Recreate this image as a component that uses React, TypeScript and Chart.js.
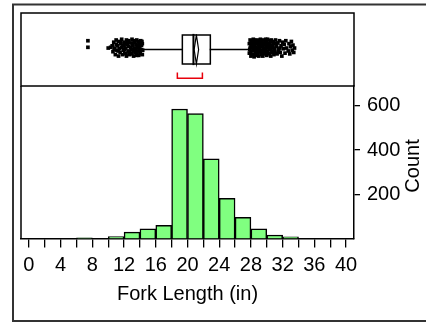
import { useEffect, useRef } from 'react';
import { Chart, registerables } from 'chart.js';

Chart.register(...registerables);

const FONT = '"Liberation Sans", Arial, sans-serif';

// Histogram of fork length: lower bin edges (in) and counts per bin
const binStarts = [6, 8, 10, 12, 14, 16, 18, 20, 22, 24, 26, 28, 30, 32];
const binWidth = 2;
const binCounts = [3, 0, 9, 29, 44, 60, 586, 565, 361, 182, 96, 44, 16, 8];

// Axis ticks
const lengthTicks = [0, 2, 4, 6, 8, 10, 12, 14, 16, 18, 20, 22, 24, 26, 28, 30, 32, 34, 36, 38, 40];
const lengthTickLabels = ['0', '4', '8', '12', '16', '20', '24', '28', '32', '36', '40'];
const countTicks = [200, 400, 600];

// Outlier box plot summary
const quartiles = [19.35, 20.75, 22.88]; // Q1, median, Q3
const whiskerEnds = [14.4, 27.78];
const meanDiamond = [20.84, 21.12, 21.4]; // lower CI, mean, upper CI
const shortestHalf = [18.72, 21.88];

// Outlying observations (in) with their vertical jitter
const lowOutliers = [
  7.44, 7.44, 10.0, 10.3, 10.5, 10.6, 10.7, 10.8, 10.9, 11.0, 11.0, 11.1, 11.2,
  11.3, 11.3, 11.4, 11.5, 11.6, 11.7, 11.7, 11.8, 11.9, 12.0, 12.0, 12.1, 12.2,
  12.3, 12.3, 12.4, 12.5, 12.6, 12.6, 12.7, 12.8, 12.9, 13.0, 13.0, 13.1, 13.2,
  13.3, 13.3, 13.4, 13.5, 13.6, 13.6, 13.7, 13.8, 13.9, 14.0, 14.0, 14.1, 14.2,
  14.3, 14.3, 13.5, 13.9, 14.2, 12.9, 12.2,
  12.05, 12.25, 12.45, 12.65, 12.85, 13.05, 13.15, 13.25, 13.45, 13.55, 13.65,
  13.75, 13.85, 13.95, 14.05, 14.15, 14.25, 14.35, 11.25, 11.55, 11.85, 10.75,
];
const lowJitter = [
  0.62, 0.53, 0.52, 0.53, 0.55, 0.47, 0.6, 0.52, 0.43, 0.57, 0.63, 0.49, 0.55,
  0.41, 0.61, 0.51, 0.46, 0.58, 0.53, 0.64, 0.43, 0.49, 0.6, 0.55, 0.45, 0.52,
  0.63, 0.41, 0.57, 0.48, 0.54, 0.62, 0.43, 0.59, 0.5, 0.64, 0.45, 0.55, 0.41,
  0.6, 0.51, 0.46, 0.57, 0.63, 0.42, 0.53, 0.48, 0.6, 0.44, 0.55, 0.62, 0.5,
  0.43, 0.58, 0.49, 0.53, 0.56, 0.44, 0.58,
  0.5, 0.44, 0.6, 0.47, 0.53, 0.58, 0.48, 0.62, 0.52, 0.44, 0.56,
  0.61, 0.42, 0.51, 0.47, 0.56, 0.61, 0.49, 0.48, 0.6, 0.55, 0.5,
];
const highOutliers = [
  27.8, 27.8, 27.9, 27.9, 28.0, 28.0, 28.1, 28.1, 28.2, 28.2, 28.3, 28.3, 28.4,
  28.4, 28.5, 28.5, 28.6, 28.6, 28.7, 28.7, 28.8, 28.8, 28.9, 28.9, 29.0, 29.0,
  29.1, 29.1, 29.2, 29.2, 29.3, 29.3, 29.4, 29.4, 29.5, 29.5, 29.6, 29.6, 29.7,
  29.7, 29.8, 29.8, 29.9, 29.9, 30.0, 30.0, 30.1, 30.1, 30.2, 30.3, 30.3, 30.4,
  30.5, 30.5, 30.6, 30.7, 30.7, 30.8, 30.9, 31.0, 31.0, 31.1, 31.2, 31.3, 31.4,
  31.5, 31.6, 31.7, 31.8, 31.9, 32.0, 32.1, 32.2, 32.3, 32.4, 32.5, 32.7, 32.8,
  32.9, 33.0, 33.1, 33.2, 33.3, 33.4, 33.5,
  27.85, 27.95, 28.05, 28.15, 28.25, 28.35, 28.45, 28.55, 28.65, 28.75, 28.85,
  28.95, 29.05, 29.15, 29.25, 29.35, 29.45, 29.55, 29.65, 29.75, 29.85, 29.95,
  30.05, 30.15, 30.25, 30.35, 30.45, 30.55, 30.65, 30.75, 30.85, 30.95, 31.05,
  31.25, 31.45, 31.65,
];
const highJitter = [
  0.45, 0.58, 0.52, 0.63, 0.41, 0.55, 0.48, 0.61, 0.53, 0.43, 0.58, 0.64, 0.49,
  0.4, 0.55, 0.61, 0.45, 0.52, 0.58, 0.42, 0.63, 0.5, 0.46, 0.56, 0.61, 0.41,
  0.52, 0.47, 0.58, 0.64, 0.43, 0.54, 0.49, 0.6, 0.55, 0.41, 0.63, 0.46, 0.52,
  0.58, 0.44, 0.61, 0.5, 0.55, 0.42, 0.6, 0.48, 0.64, 0.53, 0.45, 0.58, 0.62,
  0.5, 0.41, 0.56, 0.46, 0.61, 0.52, 0.43, 0.58, 0.49, 0.63, 0.54, 0.44, 0.59,
  0.5, 0.62, 0.46, 0.55, 0.41, 0.6, 0.51, 0.57, 0.45, 0.62, 0.52, 0.48, 0.58,
  0.44, 0.54, 0.61, 0.49, 0.56, 0.46, 0.52,
  0.5, 0.47, 0.6, 0.43, 0.56, 0.51, 0.63, 0.47, 0.59, 0.52, 0.42,
  0.6, 0.5, 0.56, 0.48, 0.62, 0.44, 0.51, 0.57, 0.48, 0.64, 0.45,
  0.53, 0.57, 0.44, 0.51, 0.56, 0.63, 0.47, 0.54, 0.6, 0.5, 0.45,
  0.58, 0.47, 0.52,
];

const X_MIN = -1;
const X_MAX = 41;
const BOX_MID = 0.5;
const BOX_LO = 0.3;
const BOX_HI = 0.7;
const BRACKET_Y = 0.105;
const BRACKET_TOP = 0.175;

const histDecor = {
  id: 'histDecor',
  afterDraw(chart: Chart) {
    const { ctx, chartArea } = chart;
    ctx.save();
    ctx.strokeStyle = '#000';
    ctx.lineWidth = 1.5;
    ctx.beginPath();
    ctx.moveTo(chartArea.left, chartArea.top);
    ctx.lineTo(chartArea.left, chartArea.bottom);
    ctx.stroke();

    // report outline
    ctx.strokeStyle = '#333';
    ctx.lineWidth = 2;
    ctx.beginPath();
    ctx.moveTo(chart.width + 10, 4.5);
    ctx.lineTo(13, 4.5);
    ctx.lineTo(13, 321);
    ctx.lineTo(chart.width + 10, 321);
    ctx.stroke();

    ctx.fillStyle = '#000';
    ctx.font = `20px ${FONT}`;
    ctx.textAlign = 'center';
    ctx.textBaseline = 'middle';
    ctx.translate(413, 166);
    ctx.rotate(-Math.PI / 2);
    ctx.fillText('Count', 0, 0);
    ctx.restore();
  },
};

const boxFrame = {
  id: 'boxFrame',
  afterDraw(chart: Chart) {
    const { ctx, chartArea } = chart;
    ctx.save();
    ctx.strokeStyle = '#000';
    ctx.lineWidth = 1.5;
    ctx.strokeRect(chartArea.left, chartArea.top, chartArea.right - chartArea.left, chartArea.bottom - chartArea.top);
    ctx.restore();
  },
};

const segment = (points: { x: number; y: number }[], color = '#000', width = 1.5) => ({
  data: points,
  showLine: true,
  pointRadius: 0,
  borderColor: color,
  borderWidth: width,
  borderCapStyle: 'square' as const,
  fill: false,
});

export default function App() {
  const histRef = useRef<HTMLCanvasElement | null>(null);
  const boxRef = useRef<HTMLCanvasElement | null>(null);

  useEffect(() => {
    const hist = new Chart(histRef.current!, {
      type: 'bar',
      data: {
        datasets: [
          {
            data: binStarts.map((s, i) => ({ x: s + binWidth / 2, y: binCounts[i] })),
            backgroundColor: '#80ff80',
            borderColor: '#000',
            borderWidth: 1.5,
            borderSkipped: 'start',
            barPercentage: 1,
            categoryPercentage: 1,
          },
        ],
      },
      options: {
        animation: false,
        responsive: false,
        layout: { padding: { left: 21, top: 86, right: 0, bottom: 0 } },
        plugins: { legend: { display: false }, tooltip: { enabled: false } },
        scales: {
          x: {
            type: 'linear',
            min: X_MIN,
            max: X_MAX,
            offset: false,
            afterBuildTicks: (scale: any) => {
              scale.ticks = lengthTicks.map((v) => ({ value: v }));
            },
            grid: { drawOnChartArea: false, drawTicks: true, tickLength: 9, color: '#000', lineWidth: 1.3, offset: false },
            border: { display: true, color: '#000', width: 1.5 },
            ticks: {
              autoSkip: false,
              maxRotation: 0,
              color: '#000',
              padding: 6,
              font: { family: FONT, size: 20 },
              callback: (v: any) => (lengthTickLabels.includes(String(v)) ? String(v) : ''),
            },
            title: {
              display: true,
              text: 'Fork Length (in)',
              color: '#000',
              font: { family: FONT, size: 20 },
              padding: { top: 0, bottom: 17 },
            },
            afterFit: (scale: any) => {
              scale.height = 84.5;
            },
          },
          y: {
            type: 'linear',
            position: 'right',
            min: 0,
            max: 690,
            afterBuildTicks: (scale: any) => {
              scale.ticks = countTicks.map((v) => ({ value: v }));
            },
            grid: { drawOnChartArea: false, drawTicks: true, tickLength: 6, color: '#000', lineWidth: 1.3 },
            border: { display: true, color: '#000', width: 1.5 },
            ticks: { color: '#000', padding: 7, font: { family: FONT, size: 20 } },
            afterFit: (scale: any) => {
              scale.width = 72;
            },
          },
        },
      },
      plugins: [histDecor],
    } as any);

    const box = new Chart(boxRef.current!, {
      type: 'scatter',
      data: {
        datasets: [
          {
            data: [
              ...lowOutliers.map((v, i) => ({ x: v, y: lowJitter[i] })),
              ...highOutliers.map((v, i) => ({ x: v, y: highJitter[i] })),
            ],
            pointStyle: 'rect',
            pointRadius: 2.6,
            backgroundColor: '#000',
            borderWidth: 0,
          },
          segment([{ x: whiskerEnds[0], y: BOX_MID }, { x: quartiles[0], y: BOX_MID }], '#000', 1.3),
          segment([{ x: quartiles[2], y: BOX_MID }, { x: whiskerEnds[1], y: BOX_MID }], '#000', 1.3),
          segment([
            { x: quartiles[0], y: BOX_LO },
            { x: quartiles[2], y: BOX_LO },
            { x: quartiles[2], y: BOX_HI },
            { x: quartiles[0], y: BOX_HI },
            { x: quartiles[0], y: BOX_LO },
          ]),
          segment([{ x: quartiles[1], y: BOX_LO }, { x: quartiles[1], y: BOX_HI }], '#000', 2),
          segment([
            { x: meanDiamond[1], y: BOX_HI },
            { x: meanDiamond[2], y: BOX_MID },
            { x: meanDiamond[1], y: BOX_LO },
            { x: meanDiamond[0], y: BOX_MID },
            { x: meanDiamond[1], y: BOX_HI },
          ], '#000', 1.2),
          segment([
            { x: shortestHalf[0], y: BRACKET_TOP },
            { x: shortestHalf[0], y: BRACKET_Y },
            { x: shortestHalf[1], y: BRACKET_Y },
            { x: shortestHalf[1], y: BRACKET_TOP },
          ], '#e8000b', 1.5),
        ],
      },
      options: {
        animation: false,
        responsive: false,
        layout: { padding: { left: 21, top: 13, right: 72, bottom: 237 } },
        plugins: { legend: { display: false }, tooltip: { enabled: false } },
        scales: {
          x: { type: 'linear', min: X_MIN, max: X_MAX, display: false },
          y: { type: 'linear', min: 0, max: 1, display: false },
        },
      },
      plugins: [boxFrame],
    } as any);

    return () => {
      hist.destroy();
      box.destroy();
    };
  }, []);

  return (
    <div style={{ position: 'fixed', left: 0, top: 0, width: 426, height: 323, background: '#fff', overflow: 'hidden' }}>
      <canvas ref={histRef} width={426} height={323} style={{ position: 'absolute', left: 0, top: 0 }} />
      <canvas ref={boxRef} width={426} height={323} style={{ position: 'absolute', left: 0, top: 0 }} />
    </div>
  );
}
